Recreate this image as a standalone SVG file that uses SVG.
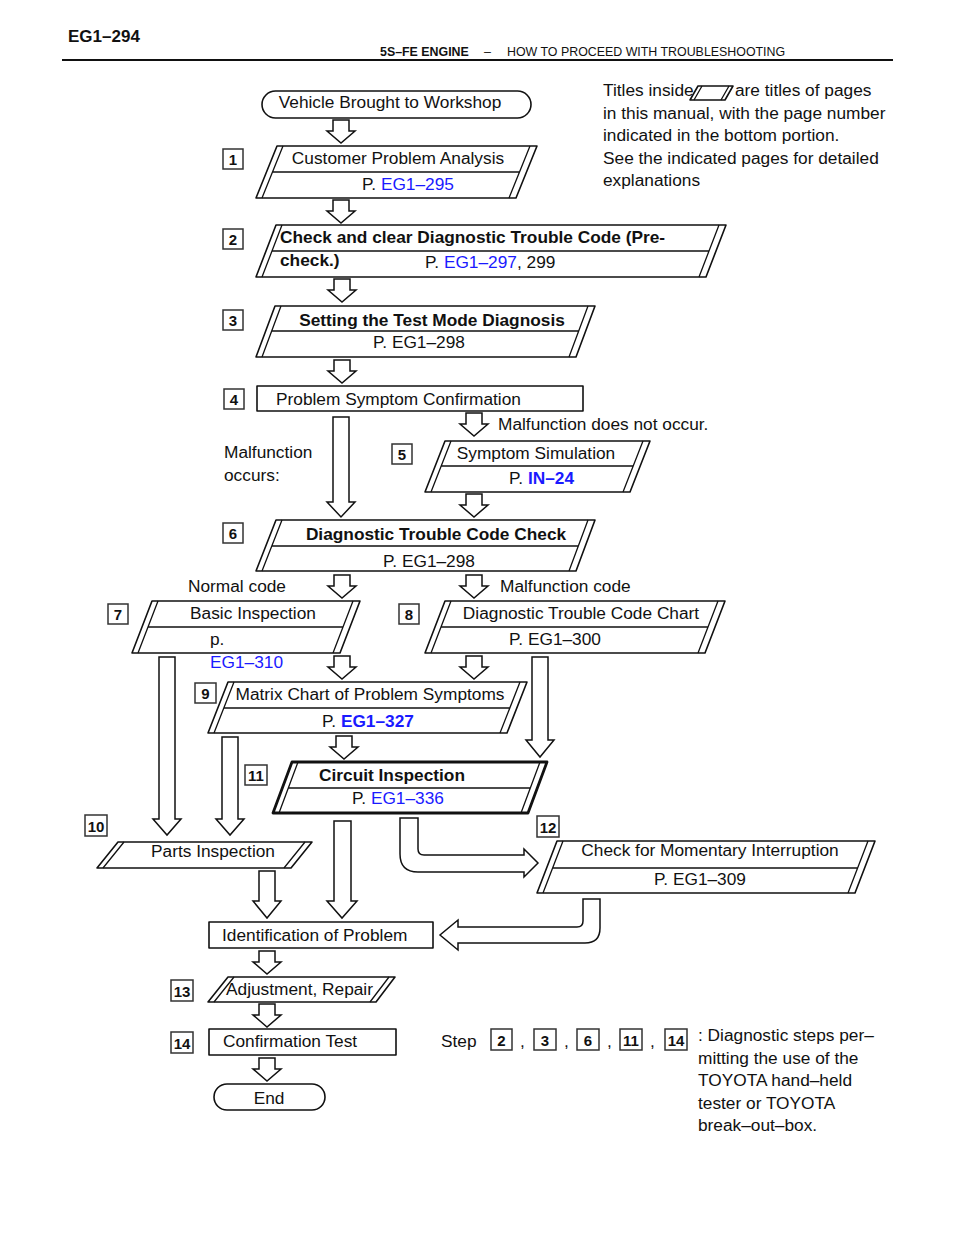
<svg xmlns="http://www.w3.org/2000/svg" xmlns:xlink="http://www.w3.org/1999/xlink" width="960" height="1242" viewBox="0 0 960 1242">
<style>
  text{font-family:"Liberation Sans",Arial,sans-serif;fill:#111;}
  .t{font-size:17.3px;}
  .b{font-size:17.3px;font-weight:bold;}
  .c{text-anchor:middle;}
  .blue{fill:#1a1aff;}
  .sh{fill:#fff;stroke:#111;stroke-width:1.6;stroke-linejoin:round;}
  .ln{fill:none;stroke:#111;stroke-width:1.3;}
  .thick{fill:#fff;stroke:#111;stroke-width:2.8;stroke-linejoin:round;}
  .lb rect{fill:#fff;stroke:#333;stroke-width:1.5;}
  .lb text{font-size:15px;font-weight:bold;text-anchor:middle;}
  .ar{fill:#fff;stroke:#111;stroke-width:1.5;stroke-linejoin:miter;}
</style>
<defs>
  <path id="sa" d="M-8,0 H8 V11 H14 L0,23 L-14,11 H-8 Z"/>
</defs>
<rect width="960" height="1242" fill="#fff"/>

<g id="header">
  <text x="68" y="42" style="font-size:17px;font-weight:bold">EG1–294</text>
  <text x="380" y="56" style="font-size:12.4px;font-weight:bold">5S–FE ENGINE</text>
  <text x="484" y="56" style="font-size:12.4px">–</text>
  <text x="507" y="56" style="font-size:12.4px">HOW TO PROCEED WITH TROUBLESHOOTING</text>
  <line x1="62" y1="60" x2="893" y2="60" stroke="#111" stroke-width="2"/>
</g>

<g id="note">
  <text class="t" x="603" y="96">Titles inside</text>
  <path class="sh" d="M698,86 H733 L725,100 H690 Z"/>
  <path class="ln" d="M702,86 L694,100 M729,86 L721,100"/>
  <text class="t" x="735" y="96">are titles of pages</text>
  <text class="t" x="603" y="119">in this manual, with the page number</text>
  <text class="t" x="603" y="141">indicated in the bottom portion.</text>
  <text class="t" x="603" y="164">See the indicated pages for detailed</text>
  <text class="t" x="603" y="186">explanations</text>
</g>

<g id="connectors" class="ar">
  <use xlink:href="#sa" href="#sa" x="341" y="120"/>
  <use xlink:href="#sa" href="#sa" x="341" y="200"/>
  <use xlink:href="#sa" href="#sa" x="342" y="279"/>
  <use xlink:href="#sa" href="#sa" x="342" y="360"/>
  <use xlink:href="#sa" href="#sa" x="474" y="413"/>
  <use xlink:href="#sa" href="#sa" x="474" y="494"/>
  <use xlink:href="#sa" href="#sa" x="342" y="575"/>
  <use xlink:href="#sa" href="#sa" x="474" y="575"/>
  <use xlink:href="#sa" href="#sa" x="342" y="656"/>
  <use xlink:href="#sa" href="#sa" x="474" y="656"/>
  <use xlink:href="#sa" href="#sa" x="344" y="736"/>
  <use xlink:href="#sa" href="#sa" x="267" y="951"/>
  <use xlink:href="#sa" href="#sa" x="267" y="1004"/>
  <use xlink:href="#sa" href="#sa" x="267" y="1058"/>
  <polygon points="333,417 349,417 349,502 355,502 341,517 327,502 333,502"/>
  <polygon points="159,657 175,657 175,819 181,819 167,835 153,819 159,819"/>
  <polygon points="222,737 238,737 238,819 244,819 230,835 216,819 222,819"/>
  <polygon points="532,657 548,657 548,740 554,740 540,757 526,740 532,740"/>
  <polygon points="334,821 351,821 351,901 357,901 342,918 327,901 334,901"/>
  <polygon points="259,871 275,871 275,901 281,901 267,918 253,901 259,901"/>
  <path d="M400,818 V854 Q400,872 418,872 H524 V877 L538,863 L524,849 V855 H424 Q418,855 418,849 V818 Z"/>
  <path d="M583,899 H600 V928 Q600,943 585,943 H458 V950 L440,935 L458,920 V927 H577 Q583,927 583,921 Z"/>
</g>

<g id="start">
  <rect class="sh" x="262" y="91" width="269" height="27" rx="13.5"/>
  <text class="t c" x="390" y="108">Vehicle Brought to Workshop</text>
</g>

<g id="step1">
  <g class="lb"><rect x="223" y="149" width="20" height="20"/><text x="233" y="165">1</text></g>
  <path class="sh" d="M277,146 H537 L516,198 H256 Z"/>
  <path class="ln" d="M283,146 L262,198 M530,146 L509,198 M272.5,172 H519.5"/>
  <text class="t c" x="398" y="164">Customer Problem Analysis</text>
  <text class="t" x="362" y="190">P. <tspan class="blue">EG1–295</tspan></text>
</g>

<g id="step2">
  <g class="lb"><rect x="223" y="229" width="20" height="20"/><text x="233" y="245">2</text></g>
  <path class="sh" d="M276,225 H726 L706,277 H256 Z"/>
  <path class="ln" d="M282,225 L262,277 M719,225 L699,277 M272,251 H709"/>
  <text class="b" x="280" y="243">Check and clear Diagnostic Trouble Code (Pre-</text>
  <text class="b" x="280" y="266">check.)</text>
  <text class="t" x="425" y="268">P. <tspan class="blue">EG1–297</tspan>, 299</text>
</g>

<g id="step3">
  <g class="lb"><rect x="223" y="310" width="20" height="20"/><text x="233" y="326">3</text></g>
  <path class="sh" d="M275,306 H595 L576,357 H256 Z"/>
  <path class="ln" d="M281,306 L262,357 M588,306 L569,357 M271.7,331 H578.7"/>
  <text class="b c" x="432" y="326">Setting the Test Mode Diagnosis</text>
  <text class="t" x="373" y="348">P. EG1–298</text>
</g>

<g id="step4">
  <g class="lb"><rect x="224" y="389" width="20" height="20"/><text x="234" y="405">4</text></g>
  <rect class="sh" x="257" y="386" width="326" height="25"/>
  <text class="t" x="276" y="405">Problem Symptom Confirmation</text>
  <text class="t" x="498" y="430">Malfunction does not occur.</text>
  <text class="t" x="224" y="458">Malfunction</text>
  <text class="t" x="224" y="481">occurs:</text>
</g>

<g id="step5">
  <g class="lb"><rect x="392" y="444" width="20" height="20"/><text x="402" y="460">5</text></g>
  <path class="sh" d="M445,441 H650 L630,492 H425 Z"/>
  <path class="ln" d="M451,441 L431,492 M643,441 L623,492 M441.2,466 H633.2"/>
  <text class="t c" x="536" y="459">Symptom Simulation</text>
  <text class="t" x="509" y="484">P. <tspan class="blue" font-weight="bold">IN–24</tspan></text>
</g>

<g id="step6">
  <g class="lb"><rect x="223" y="523" width="20" height="20"/><text x="233" y="539">6</text></g>
  <path class="sh" d="M276,520 H595 L576,571 H256 Z"/>
  <path class="ln" d="M282,520 L262,571 M588,520 L569,571 M271.8,546 H577.8"/>
  <text class="b c" x="436" y="540">Diagnostic Trouble Code Check</text>
  <text class="t c" x="429" y="567">P. EG1–298</text>
  <text class="t" x="188" y="592">Normal code</text>
  <text class="t" x="500" y="592">Malfunction code</text>
</g>

<g id="step7">
  <g class="lb"><rect x="108" y="604" width="20" height="20"/><text x="118" y="620">7</text></g>
  <path class="sh" d="M152,601 H360 L340,653 H132 Z"/>
  <path class="ln" d="M158,601 L138,653 M353,601 L333,653 M148,627 H343"/>
  <text class="t c" x="253" y="619">Basic Inspection</text>
  <text class="t" x="210" y="645">p.</text>
  <text class="t blue" x="210" y="668">EG1–310</text>
</g>

<g id="step8">
  <g class="lb"><rect x="399" y="604" width="20" height="20"/><text x="409" y="620">8</text></g>
  <path class="sh" d="M445,601 H725 L705,653 H425 Z"/>
  <path class="ln" d="M451,601 L431,653 M718,601 L698,653 M441,627 H708"/>
  <text class="t c" x="581" y="619">Diagnostic Trouble Code Chart</text>
  <text class="t c" x="555" y="645">P. EG1–300</text>
</g>

<g id="step9">
  <g class="lb"><rect x="195" y="683" width="21" height="20"/><text x="205.5" y="699">9</text></g>
  <path class="sh" d="M228,682 H527 L507,733 H208 Z"/>
  <path class="ln" d="M234,682 L214,733 M520,682 L500,733 M223.8,708 H509.8"/>
  <text class="t c" x="370" y="700">Matrix Chart of Problem Symptoms</text>
  <text class="t" x="322" y="727">P. <tspan class="blue" font-weight="bold">EG1–327</tspan></text>
</g>

<g id="step11">
  <g class="lb"><rect x="245" y="765" width="22" height="20"/><text x="256" y="781">11</text></g>
  <path class="thick" d="M292,762 H547 L528,813 H273 Z"/>
  <path class="ln" d="M298,762 L279,813 M540,762 L521,813 M288.3,788 H530.3"/>
  <text class="b c" x="392" y="781">Circuit Inspection</text>
  <text class="t" x="352" y="804">P. <tspan class="blue">EG1–336</tspan></text>
</g>

<g id="step10">
  <g class="lb"><rect x="85" y="815" width="22" height="21"/><text x="96" y="832">10</text></g>
  <path class="sh" d="M118,842 H312 L291,868 H97 Z"/>
  <path class="ln" d="M124,842 L103,868 M305,842 L284,868"/>
  <text class="t c" x="213" y="857">Parts Inspection</text>
</g>

<g id="step12">
  <g class="lb"><rect x="537" y="816" width="22" height="21"/><text x="548" y="833">12</text></g>
  <path class="sh" d="M557,841 H875 L855,893 H537 Z"/>
  <path class="ln" d="M563,841 L543,893 M868,841 L848,893 M552.6,868 H857.6"/>
  <text class="t c" x="710" y="856">Check for Momentary Interruption</text>
  <text class="t c" x="700" y="885">P. EG1–309</text>
</g>

<g id="identification">
  <rect class="sh" x="209" y="922" width="224" height="26"/>
  <text class="t" x="222" y="941">Identification of Problem</text>
</g>

<g id="step13">
  <g class="lb"><rect x="171" y="980" width="22" height="21"/><text x="182" y="997">13</text></g>
  <path class="sh" d="M228,977 H395 L376,1002 H208 Z"/>
  <path class="ln" d="M234,977 L214,1002 M389,977 L370,1002"/>
  <text class="t" x="226" y="995">Adjustment, Repair</text>
</g>

<g id="step14">
  <g class="lb"><rect x="171" y="1032" width="22" height="21"/><text x="182" y="1049">14</text></g>
  <rect class="sh" x="209" y="1029" width="187" height="26"/>
  <text class="t" x="223" y="1047">Confirmation Test</text>
</g>

<g id="end">
  <rect class="sh" x="214" y="1084" width="111" height="26" rx="13"/>
  <text class="t c" x="269" y="1104">End</text>
</g>

<g id="legend">
  <text class="t" x="441" y="1047">Step</text>
  <g class="lb"><rect x="491" y="1029" width="21" height="21"/><text x="501.5" y="1046">2</text></g>
  <text class="t" x="520" y="1047">,</text>
  <g class="lb"><rect x="534" y="1029" width="22" height="21"/><text x="545" y="1046">3</text></g>
  <text class="t" x="564" y="1047">,</text>
  <g class="lb"><rect x="577" y="1029" width="22" height="21"/><text x="588" y="1046">6</text></g>
  <text class="t" x="607" y="1047">,</text>
  <g class="lb"><rect x="620" y="1029" width="22" height="21"/><text x="631" y="1046">11</text></g>
  <text class="t" x="650" y="1047">,</text>
  <g class="lb"><rect x="665" y="1029" width="22" height="21"/><text x="676" y="1046">14</text></g>
  <text class="t" x="698" y="1041">: Diagnostic steps per–</text>
  <text class="t" x="698" y="1064">mitting the use of the</text>
  <text class="t" x="698" y="1086">TOYOTA hand–held</text>
  <text class="t" x="698" y="1109">tester or TOYOTA</text>
  <text class="t" x="698" y="1131">break–out–box.</text>
</g>
</svg>
